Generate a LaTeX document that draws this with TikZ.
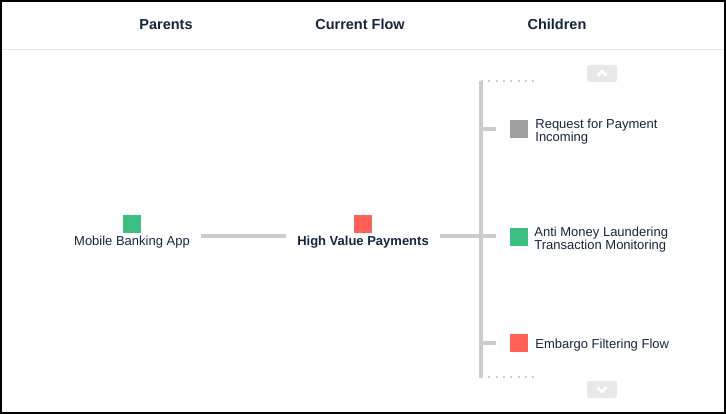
\documentclass[tikz,border=0pt]{standalone}
\usepackage{fontspec}
\setmainfont{Liberation Sans}
\usepackage{tikz}
\usetikzlibrary{positioning}
\definecolor{navy}{HTML}{15253D}
\definecolor{flowgreen}{HTML}{3DBF84}
\definecolor{flowred}{HTML}{FF6159}
\definecolor{flowgray}{HTML}{A0A0A0}
\definecolor{linkgray}{HTML}{CCCCCC}
\tikzstyle{link} = [line width=4pt, draw=linkgray]
\tikzstyle{dots} = [line width=2.5pt, draw=linkgray, dash pattern=on 2pt off 5.3pt]

\begin{document}
\begin{tikzpicture}[
    x=1pt, y=-1pt,
    flowsq/.style={
        rectangle,
        minimum size=18pt,
        inner sep=0pt
    },
    heading/.style={
        font=\fontsize{14.5}{14.5}\selectfont\bfseries,
        text=navy
    },
    lbl/.style={
        font=\fontsize{13}{13}\selectfont,
        text=navy,
        inner sep=0pt
    },
    child/.style={
        font=\fontsize{13}{13}\selectfont,
        text=navy,
        inner sep=0pt,
        align=left,
        anchor=west,
        yshift=-2.5pt
    },
    scrollbtn/.style={
        rectangle,
        rounded corners=2pt,
        fill=gray!18,
        minimum width=30pt,
        minimum height=17pt
    },
    chev/.style={
        white,
        line width=2.6pt
    }
    ]

    \useasboundingbox (0,0) rectangle (726,414);

    % frame and header
    \draw[line width=1.5pt] (1,1) rectangle (725,413);
    \draw[line width=1.5pt, gray!20] (2,49.5) -- (724,49.5);
    \node[heading] (hparents) at (166,24.5) {Parents};
    \node[heading] (hcurrent) at (360,24.5) {Current Flow};
    \node[heading] (hchildren) at (557,24.5) {Children};

    % parent
    \node[flowsq, fill=flowgreen] (parentsq) at (132,224) {};
    \node[lbl, anchor=base] (parent) at (132,246) {Mobile Banking App};

    % current flow
    \node[flowsq, fill=flowred] (currentsq) at (363,224) {};
    \node[lbl, anchor=base, font=\fontsize{13}{13}\selectfont\bfseries] (current) at (363,246) {High Value Payments};

    \draw[link] ([xshift=11pt,yshift=0.5pt]parent.north east) -- ([xshift=-11pt,yshift=0.5pt]current.north west);

    % trunk
    \coordinate (top) at (481,81);
    \coordinate (bot) at (481,378);
    \draw[link] (top) -- (bot);
    \draw[dots] (top) -- ++(56,0);
    \draw[dots] (bot) ++(0,-1) -- ++(56,0);
    \draw[link] ([xshift=11pt,yshift=0.5pt]current.north east) -- ([yshift=0.5pt]current.north east -| top);

    % children
    \node[flowsq, fill=flowgray] (rfpsq) at (519,129) {};
    \node[child, right=7pt of rfpsq] (rfp) {Request for Payment\\Incoming};
    \node[flowsq, fill=flowgreen] (amlsq) at (519,237) {};
    \node[child, right=6pt of amlsq] (aml) {Anti Money Laundering\\Transaction Monitoring};
    \node[flowsq, fill=flowred] (embsq) at (519,343) {};
    \node[child, right=7pt of embsq] (emb) {Embargo Filtering Flow};

    \draw[link, shorten >=14pt] (rfpsq.west -| top) -- (rfpsq.west);
    \draw[link, shorten >=14pt] (amlsq.west -| top) ++(0,-1) -- ++(29,0);
    \draw[link, shorten >=14pt] (embsq.west -| top) -- (embsq.west);

    % scroll buttons
    \node[scrollbtn] (up) at (602,73.5) {};
    \draw[chev] (up.center) ++(-4.5,2.2) -- ++(4.5,-4.5) -- ++(4.5,4.5);
    \node[scrollbtn] (down) at (602,389.5) {};
    \draw[chev] (down.center) ++(-4.5,-2.2) -- ++(4.5,4.5) -- ++(4.5,-4.5);
\end{tikzpicture}
\end{document}
